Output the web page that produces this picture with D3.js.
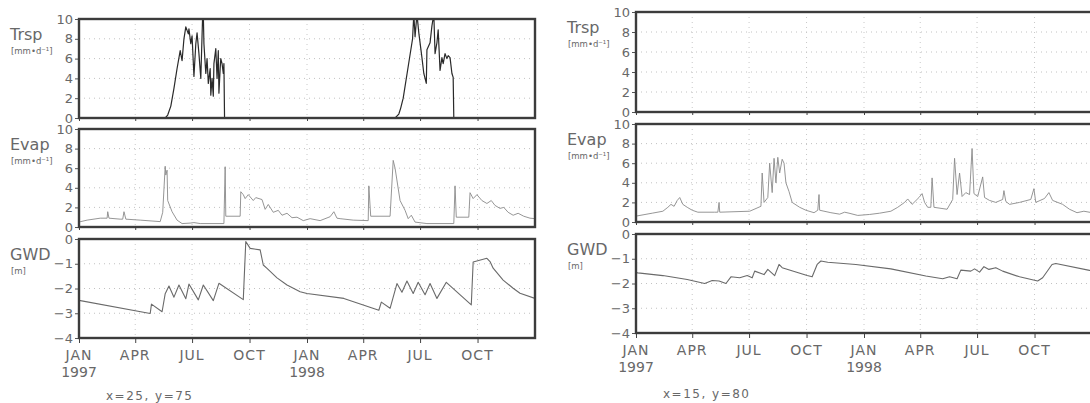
<!DOCTYPE html>
<html>
<head>
<meta charset="utf-8">
<script src="https://cdn.jsdelivr.net/npm/d3@7"></script>
<style>
body { margin: 0; background: #fff; }
text { font-family: "DejaVu Sans", sans-serif; fill: #686868; }
</style>
</head>
<body>
<svg id="chart" width="1090" height="403"></svg>
<script>
// values: [days since 1 Jan 1997, value]
// left column (x=25, y=75)
let trspLeft = [[0,0],[138,0],[142,0.3],[147,1.2],[152,3],[157,5],[162,6.8],[165,5.8],[168,8],[171,9.2],[175,8.5],[176,9],
    [179,7.5],[181,8.3],[184,4.2],[187,7.5],[189,8.6],[192,6.5],[195,4],[198,10.5],[199,10.5],[200,7.5],[203,4.5],[205,6],
    [207,3.5],[210,5],[211,2.3],[213,4],[215,2.2],[216,5.5],[219,7],[221,4],[223,6.8],[224,2.5],[226,5],[227,6],[229,5.5],
    [231,4.5],[232,5.5],[233,0],[506,0],[512,0.4],[515,1.0],[519,2.0],[527,5.2],[533,7.6],[534,8.0],[536,10.5],[538,8.2],
    [541,10.5],[544,8.6],[549,6.1],[552,4.5],[556,3.5],[557,6.9],[562,7.6],[565,9.3],[568,10.5],[570,6.5],[573,7.6],
    [575,8.9],[578,4.8],[581,6.1],[583,5.5],[586,6.5],[589,6.0],[591,6.3],[594,6.1],[597,4.5],[599,4.1],[600,0],[730,0]]

let evapLeft = [[0,0.5],[2,0.54],[13,0.7],[34,0.9],[45,0.9],[46,1.56],[48,0.9],[66,0.8],[70,0.8],[72,1.56],[75,0.8],
    [98,0.7],[130,0.55],[134,1.5],[138,6.2],[139,5.3],[141,5.8],[142,2.7],[149,1.56],[157,0.7],[165,0.35],[178,0.4],
    [184,0.45],[194,0.35],[232,0.35],[234,6.15],[235,1.1],[258,1.1],[259,3.6],[263,3.3],[266,2.9],[271,3.3],[279,2.7],
    [283,3.0],[293,2.8],[298,1.8],[303,2.3],[311,1.5],[319,1.7],[325,1.2],[333,1.4],[341,0.95],[349,1.0],[359,0.65],
    [370,0.85],[386,0.65],[402,1.05],[408,1.56],[413,0.9],[418,0.85],[439,0.7],[463,0.65],[464,4.2],[467,1.1],[498,1.1],
    [503,6.8],[506,6.0],[514,2.7],[522,1.7],[527,0.85],[532,1.2],[538,0.5],[557,0.35],[600,0.35],[602,4.2],[604,1.0],
    [624,1.0],[626,3.5],[631,2.9],[637,3.3],[645,2.7],[653,2.4],[660,2.7],[666,2.2],[674,1.9],[680,2.0],[687,1.5],
    [695,1.2],[703,1.4],[712,1.1],[722,0.9],[730,0.85]]

let gwdLeft = [[0,-2.48],[114,-3.01],[116,-2.63],[133,-2.94],[138,-2.21],[144,-1.9],[152,-2.35],[160,-1.86],[171,-2.41],
    [176,-1.82],[191,-2.46],[199,-1.86],[215,-2.49],[224,-1.79],[263,-2.45],[267,-0.1],[274,-0.38],[290,-0.44],[295,-1.05],
    [301,-1.19],[317,-1.57],[333,-1.86],[354,-2.13],[365,-2.2],[424,-2.4],[480,-2.88],[484,-2.55],[498,-2.8],[509,-1.8],
    [517,-2.15],[525,-1.7],[535,-2.2],[543,-1.75],[554,-2.25],[562,-1.8],[573,-2.4],[588,-1.75],[628,-2.66],[631,-0.93],
    [653,-0.78],[658,-0.91],[663,-1.18],[679,-1.66],[695,-1.99],[706,-2.19],[730,-2.4]]

// right column (x=15, y=80)
let trspRight = [[0,0],[730,0]]

let evapRight = [[0,0.6],[26,0.9],[43,1.1],[51,1.5],[56,1.8],[61,1.6],[66,2.2],[70,2.5],[75,1.8],[82,1.5],[90,1.2],
    [99,1.0],[126,1.0],[131,1.0],[133,2.0],[134,1.0],[182,1.1],[200,1.6],[202,5.0],[205,2.0],[211,2.5],[214,6.0],
    [218,3.0],[221,6.5],[224,4.0],[227,6.6],[230,5.0],[234,6.4],[237,6.0],[240,4.0],[245,3.1],[250,2.0],[262,1.5],
    [272,1.2],[285,0.95],[291,1.2],[293,2.8],[294,1.2],[312,0.95],[326,0.8],[334,1.0],[341,0.9],[355,0.67],[374,0.77],
    [390,0.9],[408,1.1],[419,1.5],[430,2.0],[435,2.35],[442,1.8],[453,2.5],[458,2.9],[462,2.0],[467,1.5],[472,1.5],
    [474,4.5],[477,1.5],[498,1.3],[507,2.3],[510,6.5],[514,2.8],[518,5.0],[522,2.6],[528,3.0],[534,2.8],[538,7.5],
    [541,2.9],[547,2.6],[555,4.6],[558,2.5],[566,2.2],[576,2.0],[587,2.3],[589,3.2],[592,2.1],[598,1.8],[614,2.0],
    [632,2.3],[637,3.4],[640,2.0],[654,2.4],[661,3.0],[667,2.2],[683,1.8],[694,1.3],[706,0.95],[717,1.1],[730,0.95]]

let gwdRight = [[0,-1.56],[3,-1.57],[43,-1.68],[82,-1.84],[110,-2.0],[122,-1.88],[133,-1.9],[144,-2.0],[152,-1.73],
    [166,-1.77],[178,-1.68],[186,-1.77],[190,-1.5],[205,-1.64],[211,-1.43],[222,-1.68],[229,-1.23],[234,-1.36],
    [274,-1.68],[282,-1.73],[290,-1.23],[296,-1.09],[307,-1.14],[352,-1.23],[408,-1.41],[464,-1.70],[491,-1.81],
    [502,-1.73],[514,-1.81],[520,-1.46],[536,-1.5],[542,-1.41],[550,-1.54],[557,-1.32],[565,-1.43],[576,-1.36],
    [587,-1.5],[614,-1.73],[643,-1.9],[651,-1.77],[666,-1.23],[672,-1.19],[726,-1.47],[730,-1.5]]

// axis ticks
let monthTicks = ['1997-01-01','1997-04-01','1997-07-01','1997-10-01','1998-01-01','1998-04-01','1998-07-01','1998-10-01']
let monthLabels = ['JAN','APR','JUL','OCT','JAN','APR','JUL','OCT']
let yearLabels = ['1997','','','','1998','','','']
let rateTicks = [0,2,4,6,8,10]
let gwdTicks = [0,-1,-2,-3,-4]

let svg = d3.select('#chart')
let t0 = new Date(1997, 0, 1)
let tEnd = new Date(1999, 0, 1)
let parseDay = d3.timeParse('%Y-%m-%d')
let toDate = d => d3.timeDay.offset(t0, d)

let panels = [
    {name: 'Trsp', unit: '[mm\u2022d\u207B\u00B9]', domain: [0, 10], ticks: rateTicks, color: '#2a2a2a', width: 1.2},
    {name: 'Evap', unit: '[mm\u2022d\u207B\u00B9]', domain: [0, 10], ticks: rateTicks, color: '#8a8a8a', width: 0.9},
    {name: 'GWD', unit: '[m]', domain: [-4, 0], ticks: gwdTicks, color: '#6a6a6a', width: 1.1}
]

let columns = [
    {x0: 79, x1: 535, tops: [19, 129, 239], heights: [99, 98, 99], data: [trspLeft, evapLeft, gwdLeft], note: 'x=25, y=75', noteY: 400},
    {x0: 636, x1: 1092, tops: [12, 124, 234], heights: [100, 98, 99], data: [trspRight, evapRight, gwdRight], note: 'x=15, y=80', noteY: 398}
]

let fmt = d3.format('d')

columns.forEach((col, ci) => {
    let x = d3.scaleTime().domain([t0, tEnd]).range([col.x0, col.x1])

    panels.forEach((p, pi) => {
        let top = col.tops[pi]
        let bottom = top + col.heights[pi]
        let y = d3.scaleLinear().domain(p.domain).range([bottom, top])
        let g = svg.append('g')

        // clip
        let clipId = 'clip' + ci + pi
        svg.append('clipPath').attr('id', clipId)
            .append('rect')
            .attr('x', col.x0).attr('y', top)
            .attr('width', col.x1 - col.x0).attr('height', bottom - top)

        // dotted grid
        g.selectAll('.hgrid')
            .data(p.ticks.filter(d => d != p.domain[0] && d != p.domain[1]))
            .enter().append('line')
            .attr('x1', col.x0).attr('x2', col.x1)
            .attr('y1', d => y(d)).attr('y2', d => y(d))
            .attr('stroke', '#c2c2c2').attr('stroke-width', 1)
            .attr('stroke-dasharray', '1,4')
        g.selectAll('.vgrid')
            .data(monthTicks.slice(1))
            .enter().append('line')
            .attr('x1', d => x(parseDay(d))).attr('x2', d => x(parseDay(d)))
            .attr('y1', top).attr('y2', bottom)
            .attr('stroke', '#c8c8c8').attr('stroke-width', 1)
            .attr('stroke-dasharray', '1,4')

        // data line
        let line = d3.line()
            .x(d => x(toDate(d[0])))
            .y(d => y(d[1]))
        g.append('path')
            .attr('d', line(col.data[pi]))
            .attr('clip-path', 'url(#' + clipId + ')')
            .attr('fill', 'none')
            .attr('stroke', p.color)
            .attr('stroke-width', p.width)
            .attr('stroke-linejoin', 'round')

        // y axis
        let yAxis = d3.axisLeft(y)
            .tickValues(p.ticks)
            .tickSize(4)
            .tickPadding(2)
            .tickFormat(fmt)
        let ya = g.append('g')
            .attr('transform', `translate(${col.x0},0)`)
            .call(yAxis)
        ya.select('.domain').remove()
        ya.selectAll('line').attr('stroke', '#555')
        ya.selectAll('text')
            .style('font-size', '13px')
            .attr('fill', '#686868')

        // month ticks along the bottom of each panel
        let xa = g.append('g')
            .attr('transform', `translate(0,${bottom})`)
            .call(d3.axisBottom(x).tickValues(monthTicks.map(parseDay)).tickSize(pi == 2 ? 5 : 3).tickFormat(''))
        xa.select('.domain').remove()
        xa.selectAll('line').attr('stroke', '#444')

        // frame
        g.append('rect')
            .attr('x', col.x0).attr('y', top)
            .attr('width', col.x1 - col.x0).attr('height', bottom - top)
            .attr('fill', 'none')
            .attr('stroke', '#3c3c3c')
            .attr('stroke-width', 2.4)

        // panel name and unit
        g.append('text')
            .attr('x', col.x0 - 69).attr('y', top + 21)
            .style('font-size', '16px')
            .text(p.name)
        g.append('text')
            .attr('x', col.x0 - 68).attr('y', top + 35)
            .style('font-size', '8.5px')
            .text(p.unit)

        // month and year labels under the last panel
        if (pi == 2) {
            g.selectAll('.month')
                .data(monthTicks)
                .enter().append('text')
                .attr('x', d => x(parseDay(d)))
                .attr('y', bottom + 22)
                .attr('text-anchor', 'middle')
                .style('font-size', '14px')
                .style('letter-spacing', '1px')
                .text((d, i) => monthLabels[i])
            g.selectAll('.year')
                .data(monthTicks)
                .enter().append('text')
                .attr('x', d => x(parseDay(d)))
                .attr('y', bottom + 39)
                .attr('text-anchor', 'middle')
                .style('font-size', '14px')
                .text((d, i) => yearLabels[i])
        }
    })

    svg.append('text')
        .attr('x', col.x0 + 27).attr('y', col.noteY)
        .style('font-size', '12px')
        .style('letter-spacing', '1.5px')
        .text(col.note)
})
</script>
</body>
</html>
